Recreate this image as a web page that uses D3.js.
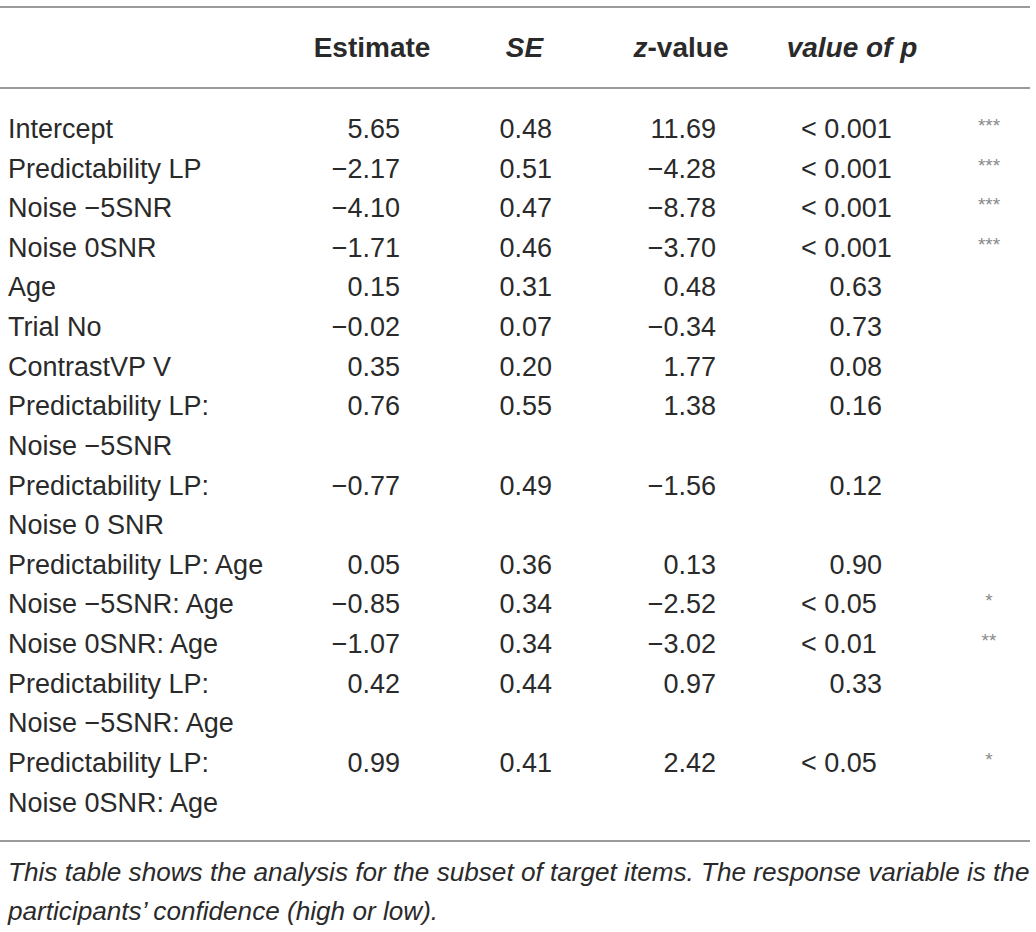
<!DOCTYPE html>
<html><head><meta charset="utf-8">
<script src="https://cdn.jsdelivr.net/npm/d3@7"></script>
<style>html,body{margin:0;padding:0;background:#fff;}svg{display:block;}</style>
</head><body>
<script>
const headers = ["Estimate", "SE", "z-value", "value of p"];
const terms = ["Intercept", "Predictability LP", "Noise −5SNR", "Noise 0SNR", "Age", "Trial No", "ContrastVP V",
  ["Predictability LP:", "Noise −5SNR"], ["Predictability LP:", "Noise 0 SNR"], "Predictability LP: Age",
  "Noise −5SNR: Age", "Noise 0SNR: Age", ["Predictability LP:", "Noise −5SNR: Age"], ["Predictability LP:", "Noise 0SNR: Age"]];
const estimate = [5.65, -2.17, -4.10, -1.71, 0.15, -0.02, 0.35, 0.76, -0.77, 0.05, -0.85, -1.07, 0.42, 0.99];
const se = [0.48, 0.51, 0.47, 0.46, 0.31, 0.07, 0.20, 0.55, 0.49, 0.36, 0.34, 0.34, 0.44, 0.41];
const zval = [11.69, -4.28, -8.78, -3.70, 0.48, -0.34, 1.77, 1.38, -1.56, 0.13, -2.52, -3.02, 0.97, 2.42];
const pval = ["< 0.001", "< 0.001", "< 0.001", "< 0.001", "0.63", "0.73", "0.08", "0.16", "0.12", "0.90", "< 0.05", "< 0.01", "0.33", "< 0.05"];
const stars = ["***", "***", "***", "***", "", "", "", "", "", "", "*", "**", "", "*"];
const caption = ["This table shows the analysis for the subset of target items. The response variable is the",
  "participants’ confidence (high or low)."];

const W = 1036, H = 932;
const svg = d3.select("body").append("svg").attr("width", W).attr("height", H);
const fmt = d3.format(".2f");
const FONT = "'Liberation Sans', Arial, Helvetica, sans-serif";
const ink = "#2a2a2a";

// line-index -> baseline y
const yLine = d3.scaleLinear().domain([0, 17]).range([138, 811.5]);

let li = 0;
const rows = terms.map((t, i) => {
  const lines = Array.isArray(t) ? t : [t];
  const r = {lines, line: li, est: estimate[i], se: se[i], z: zval[i], p: pval[i], star: stars[i]};
  li += lines.length;
  return r;
});

// rules
const rules = [7, 88, 841];
svg.selectAll("line.rule").data(rules).join("line")
  .attr("x1", 0).attr("x2", 1030).attr("y1", d => d).attr("y2", d => d)
  .attr("stroke", "#9a9a9a").attr("stroke-width", 2);

// headers
const headX = d3.scaleOrdinal().domain(headers).range([372, 524.5, 681, 852]);
const headStyle = {"Estimate": "normal", "SE": "italic", "z-value": "mixed", "value of p": "italic"};
const hg = svg.append("g").attr("font-family", FONT).attr("font-weight", "bold").attr("font-size", 28).attr("fill", ink);
headers.forEach(h => {
  const t = hg.append("text").attr("x", headX(h)).attr("y", 57).attr("text-anchor", "middle");
  if (h === "z-value") {
    t.append("tspan").attr("font-style", "italic").text("z");
    t.append("tspan").text("-value");
  } else {
    t.attr("font-style", headStyle[h]).text(h);
  }
});

// body
const body = svg.append("g").attr("font-family", FONT).attr("font-size", 27).attr("fill", ink);
const colX = d3.scaleOrdinal().domain(["label", "est", "se", "z", "pEnd", "pStart", "star"])
  .range([8, 400, 552, 716, 882, 801, 989]);

const rg = body.selectAll("g.row").data(rows).join("g").attr("class", "row");
rg.each(function(r) {
  const g = d3.select(this);
  r.lines.forEach((l, k) => {
    g.append("text").attr("x", colX("label")).attr("y", yLine(r.line + k)).text(l);
  });
  const y = yLine(r.line);
  g.append("text").attr("x", colX("est")).attr("y", y).attr("text-anchor", "end").text(fmt(r.est));
  g.append("text").attr("x", colX("se")).attr("y", y).attr("text-anchor", "end").text(fmt(r.se));
  g.append("text").attr("x", colX("z")).attr("y", y).attr("text-anchor", "end").text(fmt(r.z));
  const lt = r.p.startsWith("<");
  g.append("text").attr("x", lt ? colX("pStart") : colX("pEnd")).attr("y", y)
    .attr("text-anchor", lt ? "start" : "end").text(r.p);
  if (r.star) {
    g.append("text").attr("x", colX("star")).attr("y", y - 6).attr("text-anchor", "middle")
      .attr("font-size", 19).attr("fill", "#8a8a8a").text(r.star);
  }
});

// caption
const cg = svg.append("g").attr("font-family", FONT).attr("font-style", "italic").attr("fill", ink);
const capY = [881, 920];
const c0 = cg.append("text").attr("x", 8).attr("y", capY[0]).attr("font-size", 24).text(caption[0]);
const w0 = c0.node().getComputedTextLength();
const fs = 24 * (1022 / w0);
c0.attr("font-size", fs);
cg.append("text").attr("x", 8).attr("y", capY[1]).attr("font-size", fs).text(caption[1]);
</script>
</body></html>
